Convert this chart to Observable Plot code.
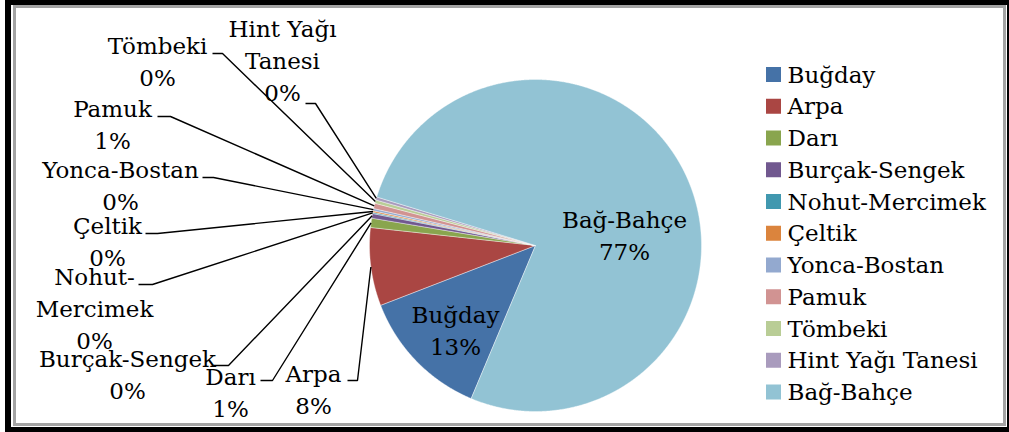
<!DOCTYPE html>
<html>
<head>
<meta charset="utf-8">
<script src="https://cdn.jsdelivr.net/npm/d3@7"></script>
<script src="https://cdn.jsdelivr.net/npm/@observablehq/plot@0.6"></script>
<style>
  html, body { margin: 0; padding: 0; background: #ffffff; }
  #wrap { position: relative; width: 1009px; height: 432px; overflow: hidden; background: #fff; }
  #outer { position: absolute; left: 5px; top: 0; width: 1004px; height: 432px; box-sizing: border-box;
           border-left: 6px solid #000; border-top: 5px solid #000; border-bottom: 5px solid #000; border-right: 2px solid #000; }
  #inner { position: absolute; left: 13px; top: 5px; width: 993px; height: 421px; box-sizing: border-box;
           border: 3px solid #a3a3a3; }
  #chart { position: absolute; left: 0; top: 0; }
</style>
</head>
<body>
<div id="wrap"><div id="outer"></div><div id="inner"></div><div id="chart"></div></div>
<script>
// ---- data ----
const categories = ["Buğday","Arpa","Darı","Burçak-Sengek","Nohut-Mercimek","Çeltik","Yonca-Bostan","Pamuk","Tömbeki","Hint Yağı Tanesi","Bağ-Bahçe"];
const values = [12.8, 7.6, 0.9, 0.45, 0.12, 0.15, 0.22, 0.52, 0.33, 0.3, 76.61];
const labelNames = ["Buğday","Arpa","Darı","Burçak-Sengek","Nohut-\nMercimek","Çeltik","Yonca-Bostan","Pamuk","Tömbeki","Hint Yağı\nTanesi","Bağ-Bahçe"];
const colors = ["#4572A7","#AA4643","#89A54E","#71588F","#4198AF","#DB843D","#93A9CF","#D19392","#B9CD96","#A99BBD","#92C3D4"];

// ---- layout (pixels) ----
const W = 1009, H = 432;
const cx = 535, cy = 245, R = 166, startAngle = 202.8;
const lineStep = 32, fontSize = 23;
const font = "DejaVu Serif";
// label layout: [center x, first baseline, leader x0, leader x1, leader y] (null leader = inside)
const labelLayout = [
  [455, 322, null, null, null],
  [313, 381, 347, 357, 380],
  [230, 384, 260, 272, 380],
  [127, 366, 213, 228, 365],
  [94, 284, 138, 152, 284],
  [107, 233, 145, 157, 233],
  [120, 177, 202, 213, 177],
  [112, 116, 157, 170, 116],
  [157, 53, 212, 222, 53],
  [282, 36, 305, 315, 103],
  [624, 227, null, null, null]
];
const legendX = 766, legendTop = 67, legendStep = 31.75, swatch = 15;

// ---- derived ----
const total = d3.sum(values);
const rad = a => a * Math.PI / 180;
const px = a => cx + R * Math.sin(rad(a));
const py = a => cy - R * Math.cos(rad(a));

let acc = startAngle;
const slices = categories.map((c, i) => {
  const a0 = acc, a1 = acc + values[i] / total * 360;
  acc = a1;
  return {cat: c, a0, a1, mid: (a0 + a1) / 2, pct: Math.round(values[i] / total * 100) + "%"};
});

const slicePts = [];
slices.forEach(s => {
  slicePts.push({cat: s.cat, x: cx, y: cy});
  const n = Math.max(2, Math.ceil((s.a1 - s.a0) / 0.25));
  for (let k = 0; k <= n; k++) {
    const a = s.a0 + (s.a1 - s.a0) * k / n;
    slicePts.push({cat: s.cat, x: px(a), y: py(a)});
  }
  slicePts.push({cat: s.cat, x: cx, y: cy});
});

const textRows = [];
const leaderPts = [];
slices.forEach((s, i) => {
  const [lx, ly, x0, x1, yl] = labelLayout[i];
  const lines = (labelNames[i] + "\n" + s.pct).split("\n");
  lines.forEach((t, k) => textRows.push({t, x: lx, y: ly + k * lineStep}));
  if (x0 !== null) {
    leaderPts.push({cat: s.cat, x: x0, y: yl});
    leaderPts.push({cat: s.cat, x: x1, y: yl});
    leaderPts.push({cat: s.cat, x: px(s.mid), y: py(s.mid)});
  }
});

const legendRows = categories.map((c, i) => ({cat: c, i}));

const chart = Plot.plot({
  width: W, height: H,
  margin: 0, marginTop: 0, marginRight: 0, marginBottom: 0, marginLeft: 0,
  x: {domain: [0, W], range: [0, W], axis: null},
  y: {domain: [0, H], range: [0, H], axis: null},
  color: {domain: categories, range: colors},
  style: {background: "transparent", fontFamily: font, color: "#000", overflow: "visible"},
  marks: [
    Plot.line(slicePts, {x: "x", y: "y", z: "cat", fill: "cat", stroke: "#ffffff", strokeWidth: 0.4, curve: "linear"}),
    Plot.line(leaderPts, {x: "x", y: "y", z: "cat", stroke: "#000", strokeWidth: 1.4, strokeLinejoin: "miter", strokeLinecap: "butt", curve: "linear"}),
    Plot.text(textRows, {x: "x", y: "y", text: "t", textAnchor: "middle", lineAnchor: "bottom", fontSize, fill: "#000", fontFamily: font}),
    Plot.rect(legendRows, {x1: () => legendX, x2: () => legendX + swatch,
      y1: d => legendTop + d.i * legendStep, y2: d => legendTop + d.i * legendStep + swatch, fill: "cat"}),
    Plot.text(legendRows, {x: () => legendX + swatch + 6, y: d => legendTop + swatch + d.i * legendStep, text: "cat",
      textAnchor: "start", lineAnchor: "bottom", fontSize, fill: "#000", fontFamily: font})
  ]
});
document.getElementById("chart").appendChild(chart);
</script>
</body>
</html>
